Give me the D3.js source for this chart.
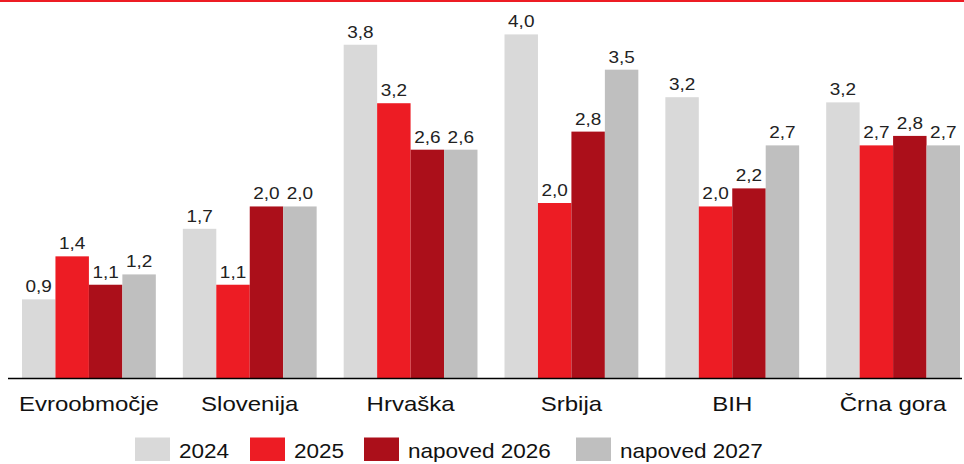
<!DOCTYPE html>
<html>
<head>
<meta charset="utf-8">
<script src="https://cdn.jsdelivr.net/npm/d3@7/dist/d3.min.js"></script>
<style>
  html, body { margin: 0; padding: 0; background: #fff; }
  svg { display: block; font-family: "Liberation Sans", Arial, sans-serif; }
</style>
</head>
<body>
<svg id="chart" width="964" height="464"></svg>
<script>
const categories = ["Evroobmočje", "Slovenija", "Hrvaška", "Srbija", "BIH", "Črna gora"]
const seriesNames = ["2024", "2025", "napoved 2026", "napoved 2027"]
const colors = ["#d9d9d9", "#ed1c24", "#ab0f1a", "#bfbfbf"]
// bar heights (unrounded)
const values2024 = [0.92, 1.74, 3.88, 4.0, 3.27, 3.21]
const values2025 = [1.42, 1.09, 3.2, 2.04, 2.0, 2.71]
const values2026 = [1.09, 2.0, 2.66, 2.87, 2.21, 2.82]
const values2027 = [1.21, 2.0, 2.66, 3.59, 2.71, 2.71]
// printed data labels
const labels2024 = ["0,9", "1,7", "3,8", "4,0", "3,2", "3,2"]
const labels2025 = ["1,4", "1,1", "3,2", "2,0", "2,0", "2,7"]
const labels2026 = ["1,1", "2,0", "2,6", "2,8", "2,2", "2,8"]
const labels2027 = ["1,2", "2,0", "2,6", "3,5", "2,7", "2,7"]
const allValues = [values2024, values2025, values2026, values2027]
const allLabels = [labels2024, labels2025, labels2026, labels2027]

const svg = d3.select("#chart")
const baseY = 378.5

const x = d3.scaleBand()
  .domain(categories)
  .range([22, 960])
  .paddingInner(0.168)
  .paddingOuter(0)

const xs = d3.scaleBand()
  .domain(d3.range(seriesNames.length))
  .range([0, x.bandwidth()])

const y = d3.scaleLinear()
  .domain([0, 4.4])
  .range([baseY, 0])

// red strip at top
svg.append("rect")
  .attr("x", 0).attr("y", 0)
  .attr("width", 964).attr("height", 2)
  .attr("fill", "#ed1c24")

const groups = svg.selectAll(".grp")
  .data(categories)
  .enter()
  .append("g")
  .attr("class", "grp")
  .attr("transform", d => `translate(${x(d)},0)`)

const cells = (d, ci) => allValues.map((arr, si) => ({ si, v: arr[ci], label: allLabels[si][ci] }))

groups.selectAll("rect")
  .data(cells)
  .enter()
  .append("rect")
  .attr("x", d => xs(d.si))
  .attr("y", d => y(d.v))
  .attr("width", xs.bandwidth())
  .attr("height", d => baseY - y(d.v))
  .attr("fill", d => colors[d.si])

groups.selectAll(".val")
  .data(cells)
  .enter()
  .append("text")
  .attr("class", "val")
  .attr("transform", d => `translate(${xs(d.si) + xs.bandwidth() / 2},${y(d.v) - 7}) scale(1.15,1)`)
  .attr("text-anchor", "middle")
  .attr("font-size", 16.5)
  .attr("fill", "#222")
  .text(d => d.label)

// x axis line
svg.append("line")
  .attr("x1", 8).attr("x2", 962)
  .attr("y1", baseY).attr("y2", baseY)
  .attr("stroke", "#000")
  .attr("stroke-width", 1.5)

svg.selectAll(".cat")
  .data(categories)
  .enter()
  .append("text")
  .attr("class", "cat")
  .attr("transform", d => `translate(${x(d) + x.bandwidth() / 2},411) scale(1.2,1)`)
  .attr("text-anchor", "middle")
  .attr("font-size", 20)
  .attr("fill", "#111")
  .text(d => d)

// legend
const legendX = [135, 250, 364, 576]
const legend = svg.selectAll(".leg")
  .data(seriesNames)
  .enter()
  .append("g")
  .attr("class", "leg")
  .attr("transform", (d, i) => `translate(${legendX[i]},437.5)`)

legend.append("rect")
  .attr("width", 35).attr("height", 23.5)
  .attr("fill", (d, i) => colors[i])

legend.append("text")
  .attr("transform", "translate(44,20) scale(1.1,1)")
  .attr("font-size", 20.5)
  .attr("fill", "#111")
  .text(d => d)
</script>
</body>
</html>
